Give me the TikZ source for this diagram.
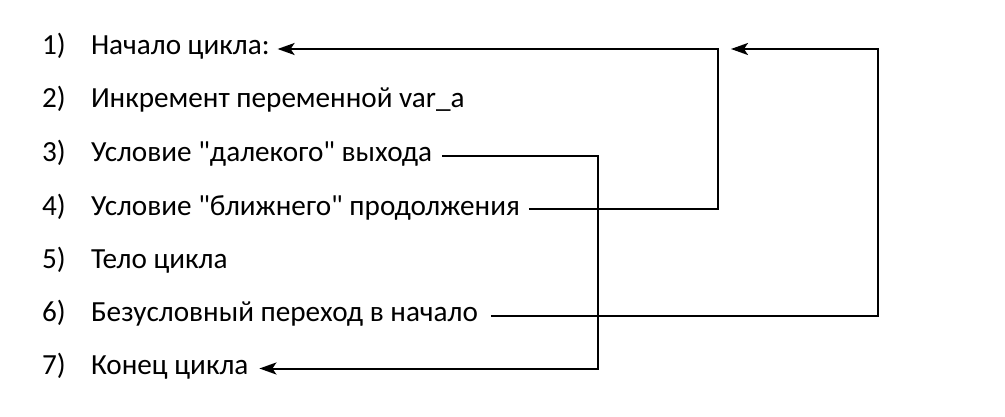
\documentclass[tikz,border=0pt]{standalone}
\usepackage{fontspec}
\setmainfont{Carlito}[Ligatures=TeXOff]
\usetikzlibrary{arrows.meta}
\begin{document}
\begin{tikzpicture}[x=1pt,y=-1pt,
  lbl/.style={anchor=west,inner sep=0pt,outer sep=0pt,font=\fontsize{29.2}{34}\selectfont,text height=20.4pt,text depth=8.4pt},
  conn/.style={line width=2pt,-{Stealth[length=17pt,width=12pt,inset=4pt]}}]
\useasboundingbox (0,0) rectangle (1005,417);
\foreach \i/\y in {1/49,2/102,3/156,4/209,5/262,6/315.5,7/368.5}{
  \node[lbl] (n\i) at (42,\y) {\i)};
}
\node[lbl] (t1) at (91,49) {Начало цикла:};
\node[lbl] (t2) at (91,102) {Инкремент переменной var\_a};
\node[lbl] (t3) at (91,156) {Условие "далекого" выхода};
\node[lbl] (t4) at (91,209) {Условие "ближнего" продолжения};
\node[lbl] (t5) at (91,262) {Тело цикла};
\node[lbl] (t6) at (91,315.5) {Безусловный переход в начало};
\node[lbl] (t7) at (91,368.5) {Конец цикла};
\coordinate (r1) at (718,0);
\coordinate (r2) at (878,0);
\coordinate (r3) at (598,0);
\coordinate (a6) at (731,49);
\draw[conn] ([xshift=9pt]t4.east) -| (r1 |- t1.east) -- ([xshift=8pt]t1.east);
\draw[conn] ([xshift=10pt]t3.east) -| (r3 |- t7.east) -- ([xshift=11pt]t7.east);
\draw[conn] ([xshift=13pt]t6.east) -| (r2 |- t1.east) -- (a6);
\end{tikzpicture}
\end{document}
